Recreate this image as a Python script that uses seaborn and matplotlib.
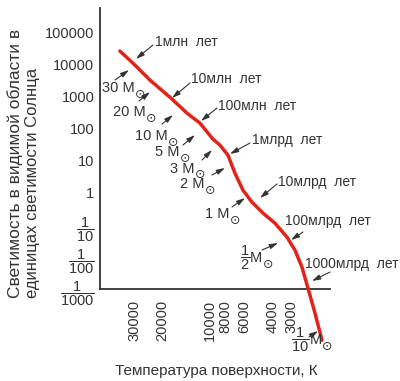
import matplotlib
matplotlib.use("Agg")
import matplotlib.pyplot as plt
import seaborn as sns
import pandas as pd

# main sequence (surface temperature K, luminosity in L_sun)
temperature = [37380, 30890, 24070, 17690, 13990, 11560, 9555, 8620, 7665, 6920,
               6155, 5395, 4588, 3848, 3228, 2871, 2590, 2372, 2140, 1932]
luminosity = [25600, 10810, 3200, 879, 300, 146, 46.4, 30.2, 14.7, 4.05,
              1.20, 0.506, 0.230, 0.112, 0.0411, 0.0162, 0.00478, 0.00106, 1.76e-4, 2.54e-5]

temp_ticks = [30000, 20000, 10000, 9000, 8000, 7000, 6000, 5000, 4000, 3000]
temp_labels = ["30000", "20000", "10000", "", "8000", "", "6000", "", "4000", "3000"]
lum_ticks = [1e5, 1e4, 1e3, 100, 10, 1, 0.1, 0.01, 0.001]
lum_labels = ["100000", "10000", "1000", "100", "10", "1",
              r"$\dfrac{1}{10}$", r"$\dfrac{1}{100}$", r"$\dfrac{1}{1000}$"]

# age labels: text, text pos, arrow start, arrow tip (image pixels)
age_labels = ["1млн  лет", "10млн  лет", "100млн  лет", "1млрд  лет",
              "10млрд  лет", "100млрд  лет", "1000млрд  лет"]
age_text = [(155, 42), (191, 79), (218, 106), (252, 140), (278, 182), (285, 221), (305, 264)]
age_from = [(153, 45), (190, 83), (217, 108), (250, 143), (277, 184), (303, 232), (330, 272)]
age_to = [(136, 59), (172, 98), (201, 121), (230, 154), (260, 198), (291, 240), (312, 281)]

# mass labels
mass_labels = ["30 M", "20 M", "10 M", "5 M", "3 M", "2 M", "1 M",
               r"$\dfrac{1}{2}$M", r"$\dfrac{1}{10}$M"]
mass_text = [(102, 88), (113, 112), (135, 136), (155, 152), (170, 169),
             (180, 184), (205, 214), (240, 258), (291, 340)]
mass_from = [(115, 80), (139, 101), (162, 124), (183, 145), (202, 160),
             (212, 175), (232, 207), (262, 250), (309, 337)]
mass_to = [(129, 70), (150, 92), (173, 115), (195, 135), (212, 150),
           (225, 168), (245, 198), (278, 243), (318, 331)]

W, H = 400, 381


def fpos(p):
    return (p[0] / W, 1 - p[1] / H)


sns.set_style("white")
plt.rcParams["font.family"] = ["Liberation Sans", "DejaVu Sans"]
plt.rcParams["mathtext.fontset"] = "custom"
plt.rcParams["mathtext.rm"] = "Liberation Sans"
plt.rcParams["mathtext.it"] = "Liberation Sans"
plt.rcParams["mathtext.sf"] = "Liberation Sans"
plt.rcParams["font.size"] = 10.5
ink = "#333333"

fig = plt.figure(figsize=(4, 3.81), dpi=100)
ax = fig.add_axes([0.25, 1 - 289 / H, 230 / W, 281 / H])

df = pd.DataFrame({"T": temperature, "L": luminosity})
sns.lineplot(data=df, x="T", y="L", ax=ax, sort=False, estimator=None,
             color="#e2231a", lw=2.5, clip_on=False, zorder=5)

ax.set_xscale("log")
ax.set_yscale("log")
ax.set_xlim(50000, 1718)
ax.set_ylim(1e-3, 5.6e5)

ax.set_xticks(temp_ticks)
ax.set_xticklabels(temp_labels, rotation=90, color=ink)
ax.xaxis.set_minor_locator(matplotlib.ticker.NullLocator())
ax.set_yticks(lum_ticks)
ax.set_yticklabels(lum_labels, color=ink)
ax.yaxis.set_minor_locator(matplotlib.ticker.NullLocator())
ax.tick_params(axis="x", direction="in", length=5, width=1, pad=8, colors=ink)
ax.tick_params(axis="y", direction="inout", length=6, width=1, pad=1, colors=ink)
ax.set_xlabel("")
ax.set_ylabel("")

sns.despine(ax=ax)
for s in ("left", "bottom"):
    ax.spines[s].set_linewidth(1.3)
    ax.spines[s].set_color(ink)

arrow = dict(arrowstyle="-|>,head_length=1.0,head_width=0.3", lw=0.8,
             color=ink, shrinkA=0, shrinkB=0, mutation_scale=5)
for lab, t, a, b in zip(age_labels, age_text, age_from, age_to):
    fig.text(*fpos(t), lab, ha="left", va="center", color=ink, fontsize=10)
    ax.annotate("", xy=fpos(b), xycoords="figure fraction", xytext=fpos(a),
                textcoords="figure fraction", arrowprops=arrow, annotation_clip=False)

mass_texts = []
for lab, t, a, b in zip(mass_labels, mass_text, mass_from, mass_to):
    mass_texts.append(fig.text(*fpos(t), lab, ha="left", va="center", color=ink, fontsize=10.5))
    ax.annotate("", xy=fpos(b), xycoords="figure fraction", xytext=fpos(a),
                textcoords="figure fraction", arrowprops=arrow, annotation_clip=False)

# sun symbol as a lowered index right after each "M"
renderer = fig.canvas.get_renderer()
for txt, t in zip(mass_texts, mass_text):
    bb = txt.get_window_extent(renderer)
    fig.text(bb.x1 / W, (H - t[1] - 6) / H, "⊙", ha="left", va="center",
             color=ink, fontsize=9, family=["DejaVu Sans"])

fig.text(15 / W, 1 - 298 / H, "Светимость в видимой области в", rotation=90,
         ha="center", va="bottom", color=ink, fontsize=12.5)
fig.text(33 / W, 1 - 298 / H, "единицах светимости Солнца", rotation=90,
         ha="center", va="bottom", color=ink, fontsize=12)
fig.text(115 / W, 1 - 371 / H, "Температура поверхности, К", ha="left",
         va="center", color=ink, fontsize=11)

fig.savefig("out.png", dpi=100, facecolor="white")
